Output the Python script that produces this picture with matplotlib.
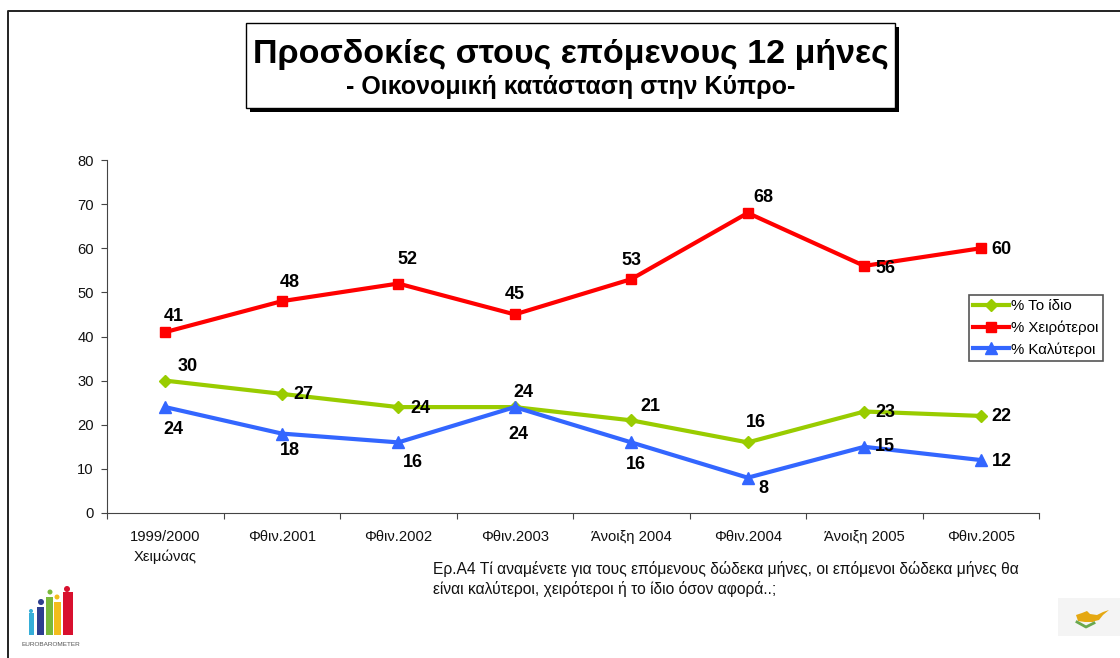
import matplotlib
matplotlib.use('Agg')
import matplotlib.pyplot as plt
from matplotlib.patches import Rectangle, Circle, Polygon

plt.rcParams['font.family'] = ['Liberation Sans', 'DejaVu Sans']

W, H = 1120, 658

categories = ['1999/2000\nΧειμώνας', 'Φθιν.2001', 'Φθιν.2002', 'Φθιν.2003',
              'Άνοιξη 2004', 'Φθιν.2004', 'Άνοιξη 2005', 'Φθιν.2005']
same = [30, 27, 24, 24, 21, 16, 23, 22]
worse = [41, 48, 52, 45, 53, 68, 56, 60]
better = [24, 18, 16, 24, 16, 8, 15, 12]

# label offsets from the point, in pixels
same_off = [(22, 15), (22, 0), (22, 0), (9, 16), (19, 15), (8, 21), (21, 0), (21, 0)]
worse_off = [(8, 17), (8, 20), (9, 25), (0, 21), (0, 20), (16, 16), (21, -2), (21, 0)]
better_off = [(8, -21), (8, -16), (15, -19), (4, -26), (5, -21), (16, -10), (21, 1), (21, 0)]

fig = plt.figure(figsize=(W / 100, H / 100), dpi=100)

# page overlay in pixel coordinates (y down)
bg = fig.add_axes([0, 0, 1, 1], zorder=0)
bg.set_xlim(0, W)
bg.set_ylim(H, 0)
bg.axis('off')

# page frame
bg.plot([7.5, 7.5, W], [H, 10.5, 10.5], color='#222222', lw=1.4)

# title box
bg.add_patch(Rectangle((250, 27), 649, 85, fc='black', ec='none'))
bg.add_patch(Rectangle((246, 23), 649, 85, fc='white', ec='black', lw=1))
bg.text(570.5, 54, 'Προσδοκίες στους επόμενους 12 μήνες', ha='center', va='center',
        fontsize=24.5, fontweight='bold')
bg.text(570.5, 87, '- Οικονομική κατάσταση στην Κύπρο-', ha='center', va='center',
        fontsize=18, fontweight='bold')

# question text
bg.text(433, 569, 'Ερ.Α4 Τί αναμένετε για τους επόμενους δώδεκα μήνες, οι επόμενοι δώδεκα μήνες θα',
        ha='left', va='center', fontsize=11.25, color='#111111')
bg.text(433, 589, 'είναι καλύτεροι, χειρότεροι ή το ίδιο όσον αφορά..;',
        ha='left', va='center', fontsize=11.25, color='#111111')

# eurobarometer logo
logo_colors = ['#35aed8', '#2d3e8f', '#79b93a', '#f2bd1c', '#d8102e']
logo_bars = [(29, 34, 613), (37, 44, 607), (46, 53, 597), (54, 61, 602), (63, 73, 592)]
logo_heads = [(31, 611, 2), (41, 602, 3), (50, 592, 2.5), (57, 597, 2.5), (67, 589, 3)]
for c, (x0, x1, top), (hx, hy, r) in zip(logo_colors, logo_bars, logo_heads):
    bg.add_patch(Rectangle((x0, top), x1 - x0, 635 - top, fc=c, ec='none'))
    bg.add_patch(Circle((hx, hy), r, fc=c, ec='none'))
bg.text(50.5, 644, 'EUROBAROMETER', ha='center', va='center', fontsize=4.6, color='#555555')

# cyprus flag
bg.add_patch(Rectangle((1058, 598), 62, 38, fc='#f4f4f4', ec='none'))
island = [(1076, 615), (1082, 613), (1087, 611), (1090, 614), (1097, 615), (1103, 612),
          (1109, 610), (1103, 615), (1099, 620), (1095, 621), (1093, 622), (1085, 622), (1078, 621)]
bg.add_patch(Polygon(island, fc='#e5a812', ec='none'))
bg.plot([1077, 1086, 1094], [622, 627, 623], color='#6aa84f', lw=2)

# main chart
ax = fig.add_axes([107 / W, 1 - 513 / H, (1039 - 107) / W, (513 - 160) / H], zorder=1)
ax.patch.set_alpha(0)
x = list(range(len(categories)))

series = [
    ('% Το ίδιο', same, '#99cc00', 'D', 6, same_off),
    ('% Χειρότεροι', worse, '#ff0000', 's', 7.5, worse_off),
    ('% Καλύτεροι', better, '#3366ff', '^', 8, better_off),
]
for name, vals, col, mk, ms, off in series:
    ax.plot(x, vals, color=col, lw=3, marker=mk, ms=ms, label=name, clip_on=False)
    for xi, v, (dx, dy) in zip(x, vals, off):
        ax.annotate(str(v), (xi, v), xytext=(dx * 0.72, (dy - 1) * 0.72), textcoords='offset points',
                    ha='center', va='center', fontsize=13, fontweight='bold', color='black',
                    annotation_clip=False, zorder=5)

axis_col = '#444444'
ax.set_xlim(-0.5, 7.5)
ax.set_ylim(0, 80)
ax.set_yticks(range(0, 81, 10))
ax.set_xticks([i - 0.5 for i in range(9)])
ax.set_xticklabels([])
ax.set_xticks(x, categories, minor=True)
ax.tick_params(axis='x', which='minor', length=0, labelsize=10.6, pad=12.5, labelcolor='#111111')
for lab in ax.get_xticklabels(minor=True):
    lab.set_linespacing(1.45)
ax.tick_params(axis='x', which='major', length=4, width=0.8, direction='out', color=axis_col)
ax.tick_params(axis='y', length=4, width=0.8, labelsize=10.6, pad=5.5, color=axis_col, labelcolor='#111111')
ax.spines['left'].set_color(axis_col)
ax.spines['bottom'].set_color(axis_col)
ax.spines['top'].set_visible(False)
ax.spines['right'].set_visible(False)

leg = ax.legend(loc='upper left', bbox_to_anchor=(969 / W, 1 - 295 / H), bbox_transform=fig.transFigure,
                fontsize=10.8, frameon=True, fancybox=False, edgecolor='#555555', framealpha=1,
                borderaxespad=0, borderpad=0.28, labelspacing=0.48, handlelength=2.4, handletextpad=0.15)
leg.get_frame().set_linewidth(1.2)

fig.savefig('out.png', dpi=100)
